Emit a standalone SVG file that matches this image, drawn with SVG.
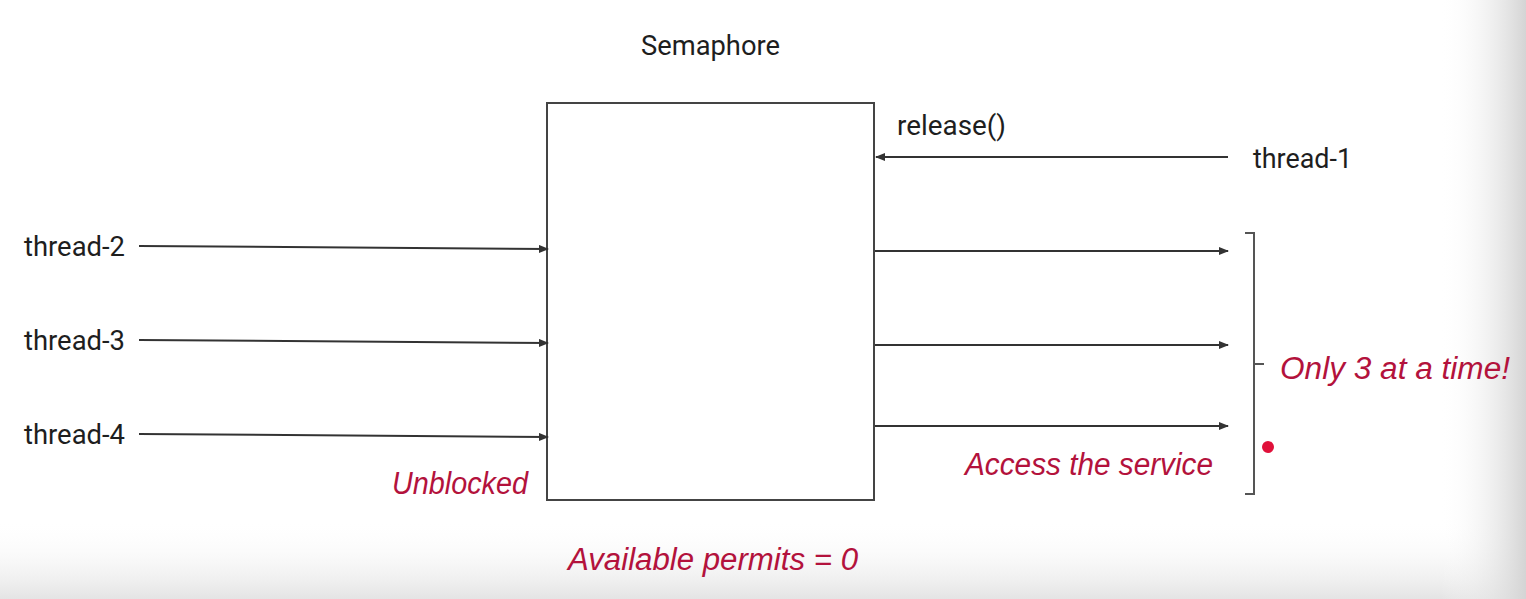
<svg xmlns="http://www.w3.org/2000/svg" width="1526" height="599" viewBox="0 0 1526 599">
<defs>
<linearGradient id="gr" x1="0" y1="0" x2="1" y2="0">
<stop offset="0" stop-color="#ffffff" stop-opacity="0"/>
<stop offset="1" stop-color="#d4d4d4" stop-opacity="1"/>
</linearGradient>
<linearGradient id="gb" x1="0" y1="0" x2="0" y2="1">
<stop offset="0" stop-color="#ffffff" stop-opacity="0"/>
<stop offset="1" stop-color="#e4e4e4" stop-opacity="1"/>
</linearGradient>
<marker id="ah" markerWidth="10" markerHeight="8" refX="9" refY="4" orient="auto" markerUnits="userSpaceOnUse">
<path d="M0,0 L10,4 L0,8 Z" fill="#333"/>
</marker>
</defs>
<style>
.lbl{font-family:Roboto,"Liberation Sans",sans-serif;font-size:28px;fill:#1e1e1e;}
.hand{font-family:"Liberation Sans","DejaVu Sans",sans-serif;font-style:italic;font-size:31px;fill:#b3123c;}
.conn{stroke:#333;stroke-width:2;fill:none;marker-end:url(#ah);}
.box{fill:#fff;stroke:#444;stroke-width:2;}
</style>
<rect x="0" y="0" width="1526" height="599" fill="#ffffff"/>
<rect x="0" y="520" width="1526" height="79" fill="url(#gb)"/>
<rect x="1440" y="0" width="86" height="599" fill="url(#gr)"/>

<g id="semaphore">
<text class="lbl" x="641" y="55" textLength="139" lengthAdjust="spacingAndGlyphs">Semaphore</text>
<rect class="box" x="547" y="103" width="327" height="397"/>
</g>

<g id="thread-1"><text class="lbl" x="1253" y="168" textLength="99" lengthAdjust="spacingAndGlyphs">thread-1</text></g>
<g id="thread-2"><text class="lbl" x="24" y="256" textLength="101" lengthAdjust="spacingAndGlyphs">thread-2</text></g>
<g id="thread-3"><text class="lbl" x="24" y="350" textLength="101" lengthAdjust="spacingAndGlyphs">thread-3</text></g>
<g id="thread-4"><text class="lbl" x="24" y="444" textLength="101" lengthAdjust="spacingAndGlyphs">thread-4</text></g>

<g id="connectors">
<line class="conn" x1="1228" y1="157" x2="876" y2="157"/>
<line class="conn" x1="139" y1="246" x2="548" y2="249"/>
<line class="conn" x1="139" y1="340" x2="548" y2="343"/>
<line class="conn" x1="139" y1="434" x2="548" y2="437"/>
<line class="conn" x1="875" y1="251" x2="1228" y2="251"/>
<line class="conn" x1="875" y1="345" x2="1228" y2="345"/>
<line class="conn" x1="875" y1="426" x2="1228" y2="426"/>
</g>

<g id="release-label"><text class="lbl" x="897" y="135" textLength="109" lengthAdjust="spacingAndGlyphs">release()</text></g>

<g id="bracket">
<path d="M1245,233 L1254,233 L1254,494 L1245,494 M1254,364 L1264,364" fill="none" stroke="#555" stroke-width="2"/>
</g>
<circle cx="1268" cy="447" r="6" fill="#e0103a"/>

<g id="annotations">
<text class="hand" x="1280" y="379" textLength="230" lengthAdjust="spacingAndGlyphs">Only 3 at a time!</text>
<text class="hand" x="965" y="475" textLength="248" lengthAdjust="spacingAndGlyphs">Access the service</text>
<text class="hand" x="392" y="494" textLength="136" lengthAdjust="spacingAndGlyphs">Unblocked</text>
<text class="hand" x="568" y="570" textLength="290" lengthAdjust="spacingAndGlyphs">Available permits = 0</text>
</g>
</svg>
